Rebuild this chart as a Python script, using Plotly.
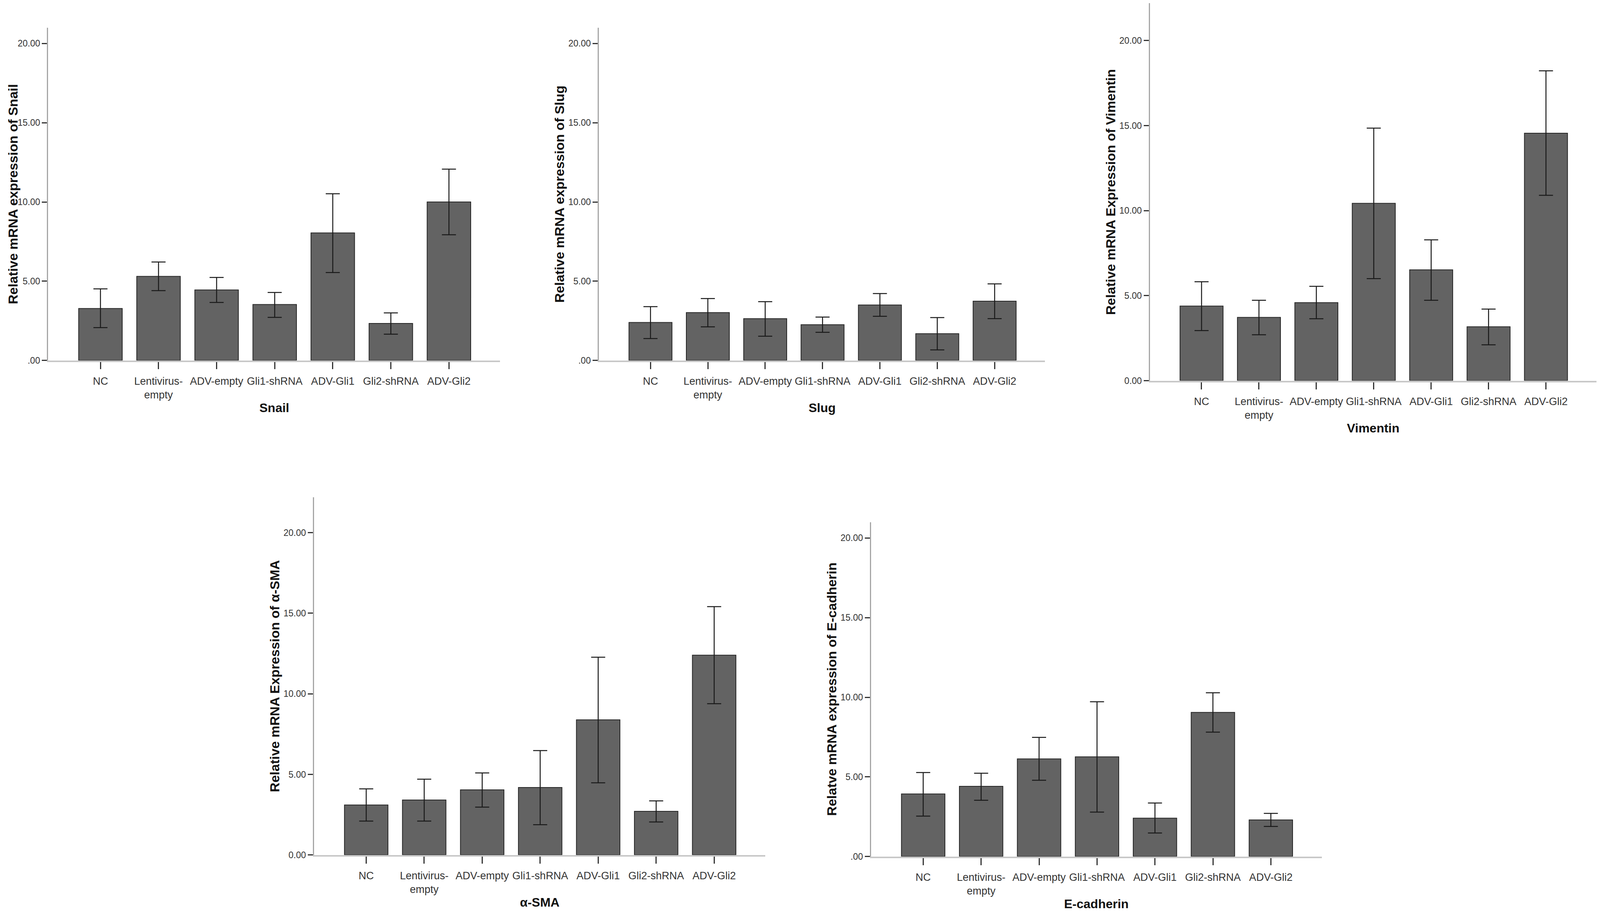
import plotly.graph_objects as go

# the page is shown in a 4096 px wide view, so the 4550 x 2345 layout is
# squeezed sideways into it (8 px of body margin round the plot)
REF_W, REF_H = 4550, 2345
VIEW_W = 4096
SX = VIEW_W / REF_W
W, H = 4080, 2329

categories = ["NC", "Lentivirus-<br>empty", "ADV-empty", "Gli1-shRNA",
              "ADV-Gli1", "Gli2-shRNA", "ADV-Gli2"]

# mean, upper and lower end of error bar
snail_mean = [3.28, 5.31, 4.45, 3.53, 8.05, 2.34, 10.00]
snail_hi = [4.52, 6.21, 5.24, 4.29, 10.52, 3.00, 12.07]
snail_lo = [2.07, 4.41, 3.66, 2.72, 5.55, 1.66, 7.93]

slug_mean = [2.40, 3.02, 2.64, 2.26, 3.50, 1.69, 3.74]
slug_hi = [3.40, 3.91, 3.71, 2.74, 4.22, 2.71, 4.83]
slug_lo = [1.38, 2.12, 1.53, 1.78, 2.79, 0.67, 2.64]

vim_mean = [4.39, 3.72, 4.59, 10.43, 6.52, 3.17, 14.55]
vim_hi = [5.82, 4.73, 5.55, 14.85, 8.28, 4.21, 18.22]
vim_lo = [2.95, 2.70, 3.64, 6.00, 4.73, 2.11, 10.90]

sma_mean = [3.10, 3.41, 4.04, 4.19, 8.39, 2.71, 12.40]
sma_hi = [4.10, 4.70, 5.09, 6.48, 12.27, 3.36, 15.41]
sma_lo = [2.10, 2.10, 2.97, 1.88, 4.48, 2.05, 9.39]

ecad_mean = [3.93, 4.41, 6.13, 6.26, 2.41, 9.05, 2.30]
ecad_hi = [5.27, 5.23, 7.48, 9.72, 3.36, 10.28, 2.71]
ecad_lo = [2.54, 3.53, 4.79, 2.79, 1.48, 7.81, 1.89]

ytick_vals = [0, 5, 10, 15, 20]
ytick_short = [".00", "5.00", "10.00", "15.00", "20.00"]
ytick_long = ["0.00", "5.00", "10.00", "15.00", "20.00"]

# name, data, y title, tick text, y max, box in reference pixels (left, right, top, bottom)
panels = [
    ("Snail", snail_mean, snail_hi, snail_lo, "Relative mRNA expression of Snail",
     ytick_short, 21.0, (137, 1422, 71, 928)),
    ("Slug", slug_mean, slug_hi, slug_lo, "Relative mRNA expression of Slug",
     ytick_short, 21.0, (1703, 2972, 71, 928)),
    ("Vimentin", vim_mean, vim_hi, vim_lo, "Relative mRNA Expression of Vimentin",
     ytick_long, 22.2, (3270, 4540, 8, 980)),
    ("α-SMA", sma_mean, sma_hi, sma_lo, "Relative mRNA Expression of α-SMA",
     ytick_long, 22.2, (893, 2176, 1280, 2201)),
    ("E-cadherin", ecad_mean, ecad_hi, ecad_lo, "Relatve mRNA expression of E-cadherin",
     ytick_short, 21.0, (2477, 3759, 1344, 2205)),
]

FONT = "'Liberation Sans', Arial, sans-serif"


def px(x):
    return (x * SX - 8) / W


def py(y):
    return 1 - (y - 8) / H


fig = go.Figure()
annotations = []

for i, (name, mean, hi, lo, ytitle, ytext, ymax, box) in enumerate(panels):
    n = "" if i == 0 else str(i + 1)
    left, right, top, bottom = box
    up = [h - m for h, m in zip(hi, mean)]
    down = [m - l for m, l in zip(mean, lo)]

    fig.add_trace(go.Bar(
        x=categories, y=mean,
        xaxis="x" + n, yaxis="y" + n,
        marker=dict(color="#636363", line=dict(color="#262626", width=2)),
        error_y=dict(type="data", symmetric=False, array=up, arrayminus=down,
                     color="#1a1a1a", thickness=2.5, width=18),
        showlegend=False,
    ))

    fig.update_layout(**{
        "xaxis" + n: dict(
            domain=[px(left), px(right)], anchor="y" + n,
            range=[-0.9, 6.88],
            showline=True, linecolor="#c8c8c8", linewidth=4,
            ticks="outside", ticklen=18, tickwidth=3, tickcolor="#333333",
            tickfont=dict(family=FONT, size=27, color="#333333"),
            ticklabelstandoff=8,
            showgrid=False, zeroline=False, fixedrange=True,
        ),
        "yaxis" + n: dict(
            domain=[py(bottom), min(1, py(top))], anchor="x" + n,
            range=[0, ymax],
            tickvals=ytick_vals, ticktext=ytext,
            showline=True, linecolor="#a6a6a6", linewidth=3,
            ticks="outside", ticklen=13, tickwidth=3, tickcolor="#333333",
            tickfont=dict(family=FONT, size=23, color="#333333"),
            showgrid=False, zeroline=False, fixedrange=True,
        ),
    })

    annotations.append(dict(
        text="<b>" + ytitle + "</b>", textangle=-90,
        xref="paper", yref="paper",
        x=max(px(left - 112), 25 / W), y=py((top + bottom) / 2),
        xanchor="center", yanchor="middle", showarrow=False,
        font=dict(family=FONT, size=34, color="#111111"),
    ))
    annotations.append(dict(
        text="<b>" + name + "</b>",
        xref="paper", yref="paper",
        x=px((left + right) / 2), y=py(bottom + 122),
        xanchor="center", yanchor="middle", showarrow=False,
        font=dict(family=FONT, size=32, color="#111111"),
    ))

fig.update_layout(
    width=W, height=H,
    margin=dict(l=0, r=0, t=0, b=0),
    paper_bgcolor="white", plot_bgcolor="white",
    bargap=0.25,
    annotations=annotations,
)

fig.write_html("out.html")
